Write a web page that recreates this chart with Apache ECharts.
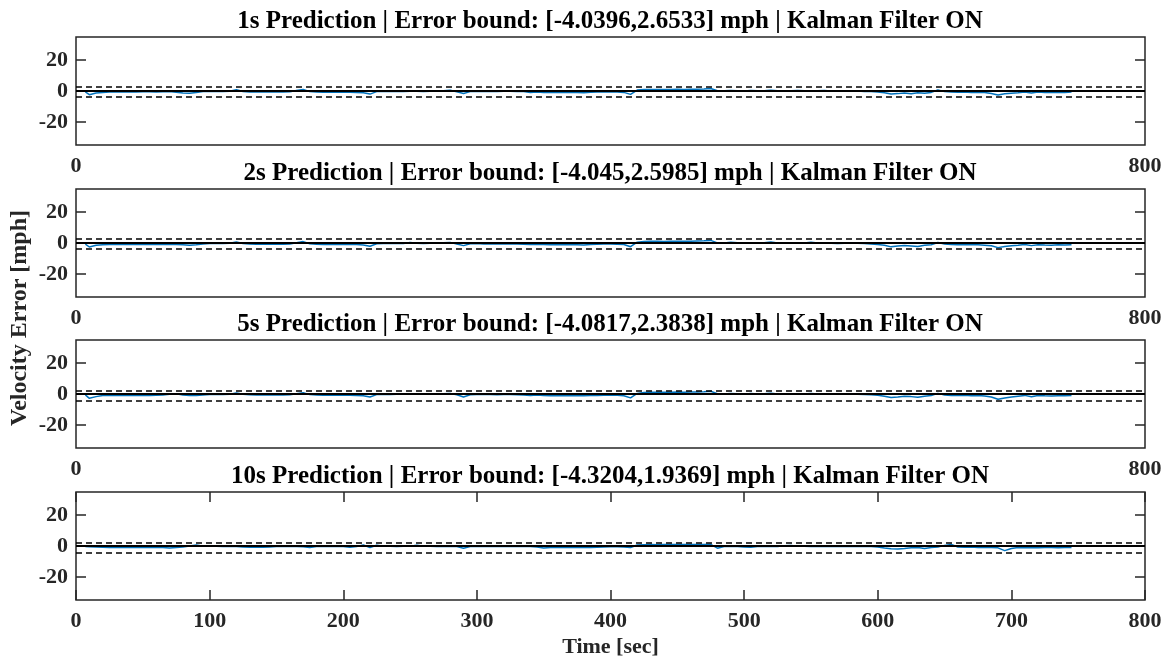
<!DOCTYPE html>
<html>
<head>
<meta charset="utf-8">
<script src="https://cdn.jsdelivr.net/npm/echarts@6/dist/echarts.min.js"></script>
<style>
 html, body { margin: 0; padding: 0; background: #fff; }
 #main { width: 1173px; height: 662px; }
</style>
</head>
<body>
<div id="main"></div>
<script>
// time stamps [sec]
var time = [
  7, 10, 15, 20, 25, 30, 35, 40, 45, 50,
  55, 60, 65, 70, 75, 80, 85, 90, 95, 100,
  105, 110, 115, 120, 125, 130, 135, 140, 145, 150,
  155, 160, 165, 170, 175, 180, 185, 190, 195, 200,
  205, 210, 215, 220, 225, 230, 235, 240, 245, 250,
  255, 260, 265, 270, 275, 280, 285, 290, 295, 300,
  305, 310, 315, 320, 325, 330, 335, 340, 345, 350,
  355, 360, 365, 370, 375, 380, 385, 390, 395, 400,
  405, 410, 415, 420, 425, 430, 435, 440, 445, 450,
  455, 460, 465, 470, 475, 480, 485, 490, 495, 500,
  505, 510, 515, 520, 525, 530, 535, 540, 545, 550,
  555, 560, 565, 570, 575, 580, 585, 590, 595, 600,
  605, 610, 615, 620, 625, 630, 635, 640, 645, 650,
  655, 660, 665, 670, 675, 680, 685, 690, 695, 700,
  705, 710, 715, 720, 725, 730, 735, 740, 745
];

// velocity error [mph] for each prediction horizon
var err1s = [
  -0.6, -2.4, -1.3, -0.9, -0.7, -0.6, -0.6, -0.5, -0.6, -0.5,
  -0.5, -0.6, -0.5, -0.4, -0.8, -1.3, -1.5, -1.0, -0.4, -0.3,
  -0.3, -0.4, -0.2, 0.9, -0.3, -0.6, -0.7, -0.6, -0.7, -0.6,
  -0.7, -0.5, 0.3, 1.0, -0.4, -0.7, -0.8, -0.7, -0.8, -0.7,
  -0.8, -0.9, -1.2, -2.0, -0.4, -0.2, -0.3, -0.2, -0.3, -0.2,
  -0.1, -0.3, -0.2, -0.1, 0.2, 0.5, -0.5, -1.6, -0.4, -0.2,
  -0.3, -0.2, -0.3, -0.2, -0.1, -0.3, -0.4, -0.9, -0.6, -0.9,
  -1.0, -0.9, -1.0, -0.9, -1.0, -1.2, -0.8, -0.7, -0.6, -0.5,
  -0.6, -0.9, -2.2, 0.6, 0.9, 1.0, 1.0, 0.9, 1.0, 1.1,
  1.0, 1.1, 1.2, 1.3, 1.6, 0.2, 0.1, 0.3, 0.2, 0.0,
  0.4, 0.1, 0.2, 0.5, 0.1, 0.0, 0.2, 0.3, 0.1, -0.1,
  0.1, 0.3, 0.0, -0.2, -0.1, 0.2, 0.0, -0.3, -0.4, -0.6,
  -1.2, -2.0, -1.7, -1.3, -1.8, -1.1, -1.4, -0.9, 0.6, -0.4,
  -0.7, -0.8, -0.6, -0.9, -0.8, -1.0, -1.6, -2.6, -1.8, -1.5,
  -1.2, -0.6, -1.3, -0.7, -0.9, -1.0, -0.8, -0.9, -0.7
];
var err2s = [
  -0.7, -2.6, -1.5, -1.1, -1.0, -0.9, -1.0, -0.9, -1.0, -0.9,
  -1.0, -0.9, -1.0, -0.8, -1.0, -1.2, -1.4, -1.1, -0.6, -0.4,
  -0.4, -0.3, -0.2, 0.7, -0.3, -0.6, -0.8, -0.7, -0.8, -0.7,
  -0.8, -0.6, 0.2, 0.9, -0.5, -0.8, -0.9, -0.8, -0.9, -0.8,
  -0.9, -1.0, -1.3, -2.1, -0.5, -0.3, -0.4, -0.2, -0.3, 0.3,
  -0.2, -0.3, -0.2, -0.1, 0.1, 0.4, -0.6, -1.7, -0.5, -0.4,
  -0.6, -0.5, -0.7, -0.6, -0.5, -0.7, -0.8, -1.0, -0.8, -1.0,
  -1.1, -1.0, -1.1, -1.0, -1.1, -1.3, -0.9, -0.8, -0.7, -0.7,
  -0.8, -1.0, -2.4, 0.5, 1.0, 1.1, 1.1, 1.0, 1.1, 1.2,
  1.1, 1.2, 1.3, 1.4, 1.7, 0.1, 0.0, 0.5, 0.1, -0.1,
  0.2, 0.0, 0.1, 0.6, 0.0, -0.1, 0.1, 0.2, 0.0, 0.5,
  0.0, 0.2, -0.1, -0.3, -0.2, 0.1, -0.1, -0.4, -0.6, -0.9,
  -1.5, -2.5, -2.0, -1.6, -1.9, -2.2, -1.5, -1.1, 0.3, -0.7,
  -1.0, -1.1, -0.9, -1.2, -1.1, -1.4, -1.8, -3.0, -2.2, -1.8,
  -1.5, -1.0, -1.7, -1.1, -1.3, -1.4, -1.2, -1.3, -1.1
];
var err5s = [
  -0.6, -2.8, -1.7, -1.0, -0.9, -0.8, -0.9, -0.8, -0.9, -0.8,
  -0.9, -0.8, -0.7, -0.2, 0.2, -0.6, -1.0, -0.9, -0.6, -0.4,
  -0.3, -0.4, -0.2, 0.6, -0.2, -0.5, -0.7, -0.6, -0.7, -0.6,
  -0.7, -0.5, 0.1, 0.8, -0.4, -0.7, -0.8, -0.7, -0.8, -0.7,
  -0.8, -0.9, -1.2, -1.9, -0.4, -0.2, -0.3, -0.1, -0.2, 0.2,
  -0.1, -0.2, -0.1, 0.0, 0.2, 0.3, -0.5, -1.9, -0.5, -0.3,
  -0.4, -0.3, -0.5, -0.4, -0.3, -0.5, -0.6, -0.9, -0.7, -1.0,
  -1.1, -1.0, -1.1, -1.0, -1.1, -1.2, -1.0, -0.9, -0.8, -0.7,
  -0.8, -1.1, -2.5, 0.4, 1.0, 1.1, 1.2, 1.1, 1.2, 1.3,
  1.2, 1.3, 1.3, 1.4, 1.8, 0.2, 0.0, 0.4, 0.1, -0.1,
  0.3, 0.0, 0.1, 0.5, 0.0, -0.1, 0.2, 0.1, 0.0, 0.4,
  0.0, 0.1, -0.1, -0.2, -0.1, 0.1, -0.2, -0.3, -0.5, -0.8,
  -1.4, -2.3, -2.0, -1.5, -1.7, -2.1, -1.4, -1.0, 0.4, -0.6,
  -0.9, -1.0, -0.8, -1.1, -1.0, -1.3, -1.9, -3.4, -2.6, -2.0,
  -1.4, -0.9, -1.8, -1.0, -1.2, -1.3, -1.1, -1.2, -1.0
];
var err10s = [
  -0.4, -0.5, -0.6, -0.8, -0.9, -0.8, -0.9, -0.8, -0.9, -0.8,
  -0.9, -0.8, -0.9, -1.3, -0.9, -0.6, 0.0, 0.6, -0.1, -0.2,
  -0.2, -0.3, -0.2, -0.4, -0.7, -0.8, -0.7, -0.8, -0.7, -0.4,
  -0.3, -0.3, -0.4, -0.5, -0.9, -0.4, -0.3, -0.3, -0.4, -0.3,
  -0.8, -0.4, 0.6, -1.0, 0.5, -0.2, -0.2, -0.3, -0.2, -0.1,
  0.5, -0.1, -0.2, -0.3, -0.2, -0.3, -0.4, -1.5, -0.4, -0.3,
  -0.3, -0.2, -0.3, -0.2, -0.3, -0.4, -0.3, -0.4, -0.6, -1.3,
  -0.9, -0.8, -0.9, -0.8, -0.9, -0.8, -0.9, -0.8, -0.7, -0.5,
  -0.5, -0.6, -1.0, 0.6, 0.8, 0.9, 0.8, 0.9, 1.0, 0.9,
  1.0, 0.9, 1.0, 0.9, 1.1, -1.4, -0.3, -0.2, -0.4, -0.6,
  -0.8, -0.3, -0.2, -0.4, -0.3, 0.2, 0.3, -0.1, -0.2, -0.3,
  -0.2, -0.4, -0.1, -0.3, -0.2, -0.3, -0.2, -0.4, -0.3, -0.6,
  -1.3, -1.8, -1.9, -1.6, -1.2, -1.0, -1.6, -0.9, -0.6, 0.4,
  1.0, -0.6, -0.8, -0.7, -0.9, -0.8, -0.9, -1.2, -3.0, -1.6,
  -1.0, -1.1, -0.9, -1.2, -1.0, -0.9, -1.1, -1.0, -1.0
];

var horizons = ['1s', '2s', '5s', '10s'];
var lowerBound = [-4.0396, -4.045, -4.0817, -4.3204];
var upperBound = [2.6533, 2.5985, 2.3838, 1.9369];
var errors = [err1s, err2s, err5s, err10s];
var xTicks = [0, 100, 200, 300, 400, 500, 600, 700, 800];
var yTicks = [-20, 0, 20];

var FONT = 'Liberation Serif';
var AX = '#262626';
var gridTop = [37, 189, 340, 492];
var gridH = 108;

var dom = document.getElementById('main');
var myChart = echarts.init(dom, null, { renderer: 'canvas' });

var grids = [], xAxes = [], yAxes = [], series = [], titles = [];

horizons.forEach(function (h, i) {
  var last = (i === horizons.length - 1);
  grids.push({
    left: 76, right: 28, top: gridTop[i], height: gridH,
    show: true, borderColor: AX, borderWidth: 1.5, backgroundColor: '#fff'
  });
  titles.push({
    text: h + ' Prediction | Error bound: [' + lowerBound[i] + ',' + upperBound[i] + '] mph | Kalman Filter ON',
    left: 610, top: gridTop[i] - 28, textAlign: 'center', padding: 0,
    textStyle: { fontFamily: FONT, fontWeight: 'bold', fontSize: 25, color: '#000' }
  });
  var xTick = last ? { show: true, inside: true, length: 10, lineStyle: { color: AX, width: 1.5 } } : { show: false };
  // bottom x axis
  xAxes.push({
    type: 'value', gridIndex: i, min: 0, max: 800, interval: 100,
    axisLine: { show: false, onZero: false },
    splitLine: { show: false },
    axisTick: xTick,
    axisLabel: {
      customValues: last ? xTicks : [0, 800],
      margin: 10, fontFamily: FONT, fontWeight: 'bold', fontSize: 22, color: '#262626'
    },
    name: last ? 'Time [sec]' : '',
    nameLocation: 'middle', nameGap: 36,
    nameTextStyle: { fontFamily: FONT, fontWeight: 'bold', fontSize: 22, color: '#262626' }
  });
  // top x axis (ticks only)
  xAxes.push({
    type: 'value', gridIndex: i, position: 'top', min: 0, max: 800, interval: 100,
    axisLine: { show: false, onZero: false }, splitLine: { show: false }, axisLabel: { show: false },
    axisTick: xTick
  });
  var yTick = { show: true, inside: true, length: 10, customValues: yTicks, lineStyle: { color: AX, width: 1.5 } };
  yAxes.push({
    type: 'value', gridIndex: i, position: 'left', min: -35, max: 35,
    axisLine: { show: false, onZero: false }, splitLine: { show: false },
    axisTick: yTick,
    axisLabel: { customValues: yTicks, margin: 8, fontFamily: FONT, fontWeight: 'bold', fontSize: 22, color: '#262626' }
  });
  yAxes.push({
    type: 'value', gridIndex: i, position: 'right', min: -35, max: 35,
    axisLine: { show: false, onZero: false }, splitLine: { show: false }, axisLabel: { show: false },
    axisTick: yTick
  });

  series.push({
    name: h,
    type: 'line',
    xAxisIndex: i * 2,
    yAxisIndex: i * 2,
    data: time.map(function (t, k) { return [t, errors[i][k]]; }),
    showSymbol: false,
    silent: true,
    lineStyle: { color: '#0072BD', width: 1.5 },
    z: 3,
    markLine: {
      silent: true,
      symbol: 'none',
      label: { show: false },
      animation: false,
      lineStyle: { color: '#000', width: 1.5, type: [6, 4] },
      data: [
        { yAxis: 0, lineStyle: { type: 'solid', width: 2 } },
        { yAxis: upperBound[i] },
        { yAxis: lowerBound[i] }
      ]
    }
  });
});

var option = {
  animation: false,
  backgroundColor: '#fff',
  title: titles,
  grid: grids,
  xAxis: xAxes,
  yAxis: yAxes,
  series: series,
  graphic: [{
    type: 'text',
    x: 20, y: 318,
    rotation: Math.PI / 2,
    style: {
      text: 'Velocity Error [mph]',
      font: 'bold 24px "Liberation Serif"',
      fill: '#262626',
      textAlign: 'center',
      textVerticalAlign: 'middle'
    }
  }]
};

myChart.setOption(option);
window.onresize = myChart.resize;
</script>
</body>
</html>
